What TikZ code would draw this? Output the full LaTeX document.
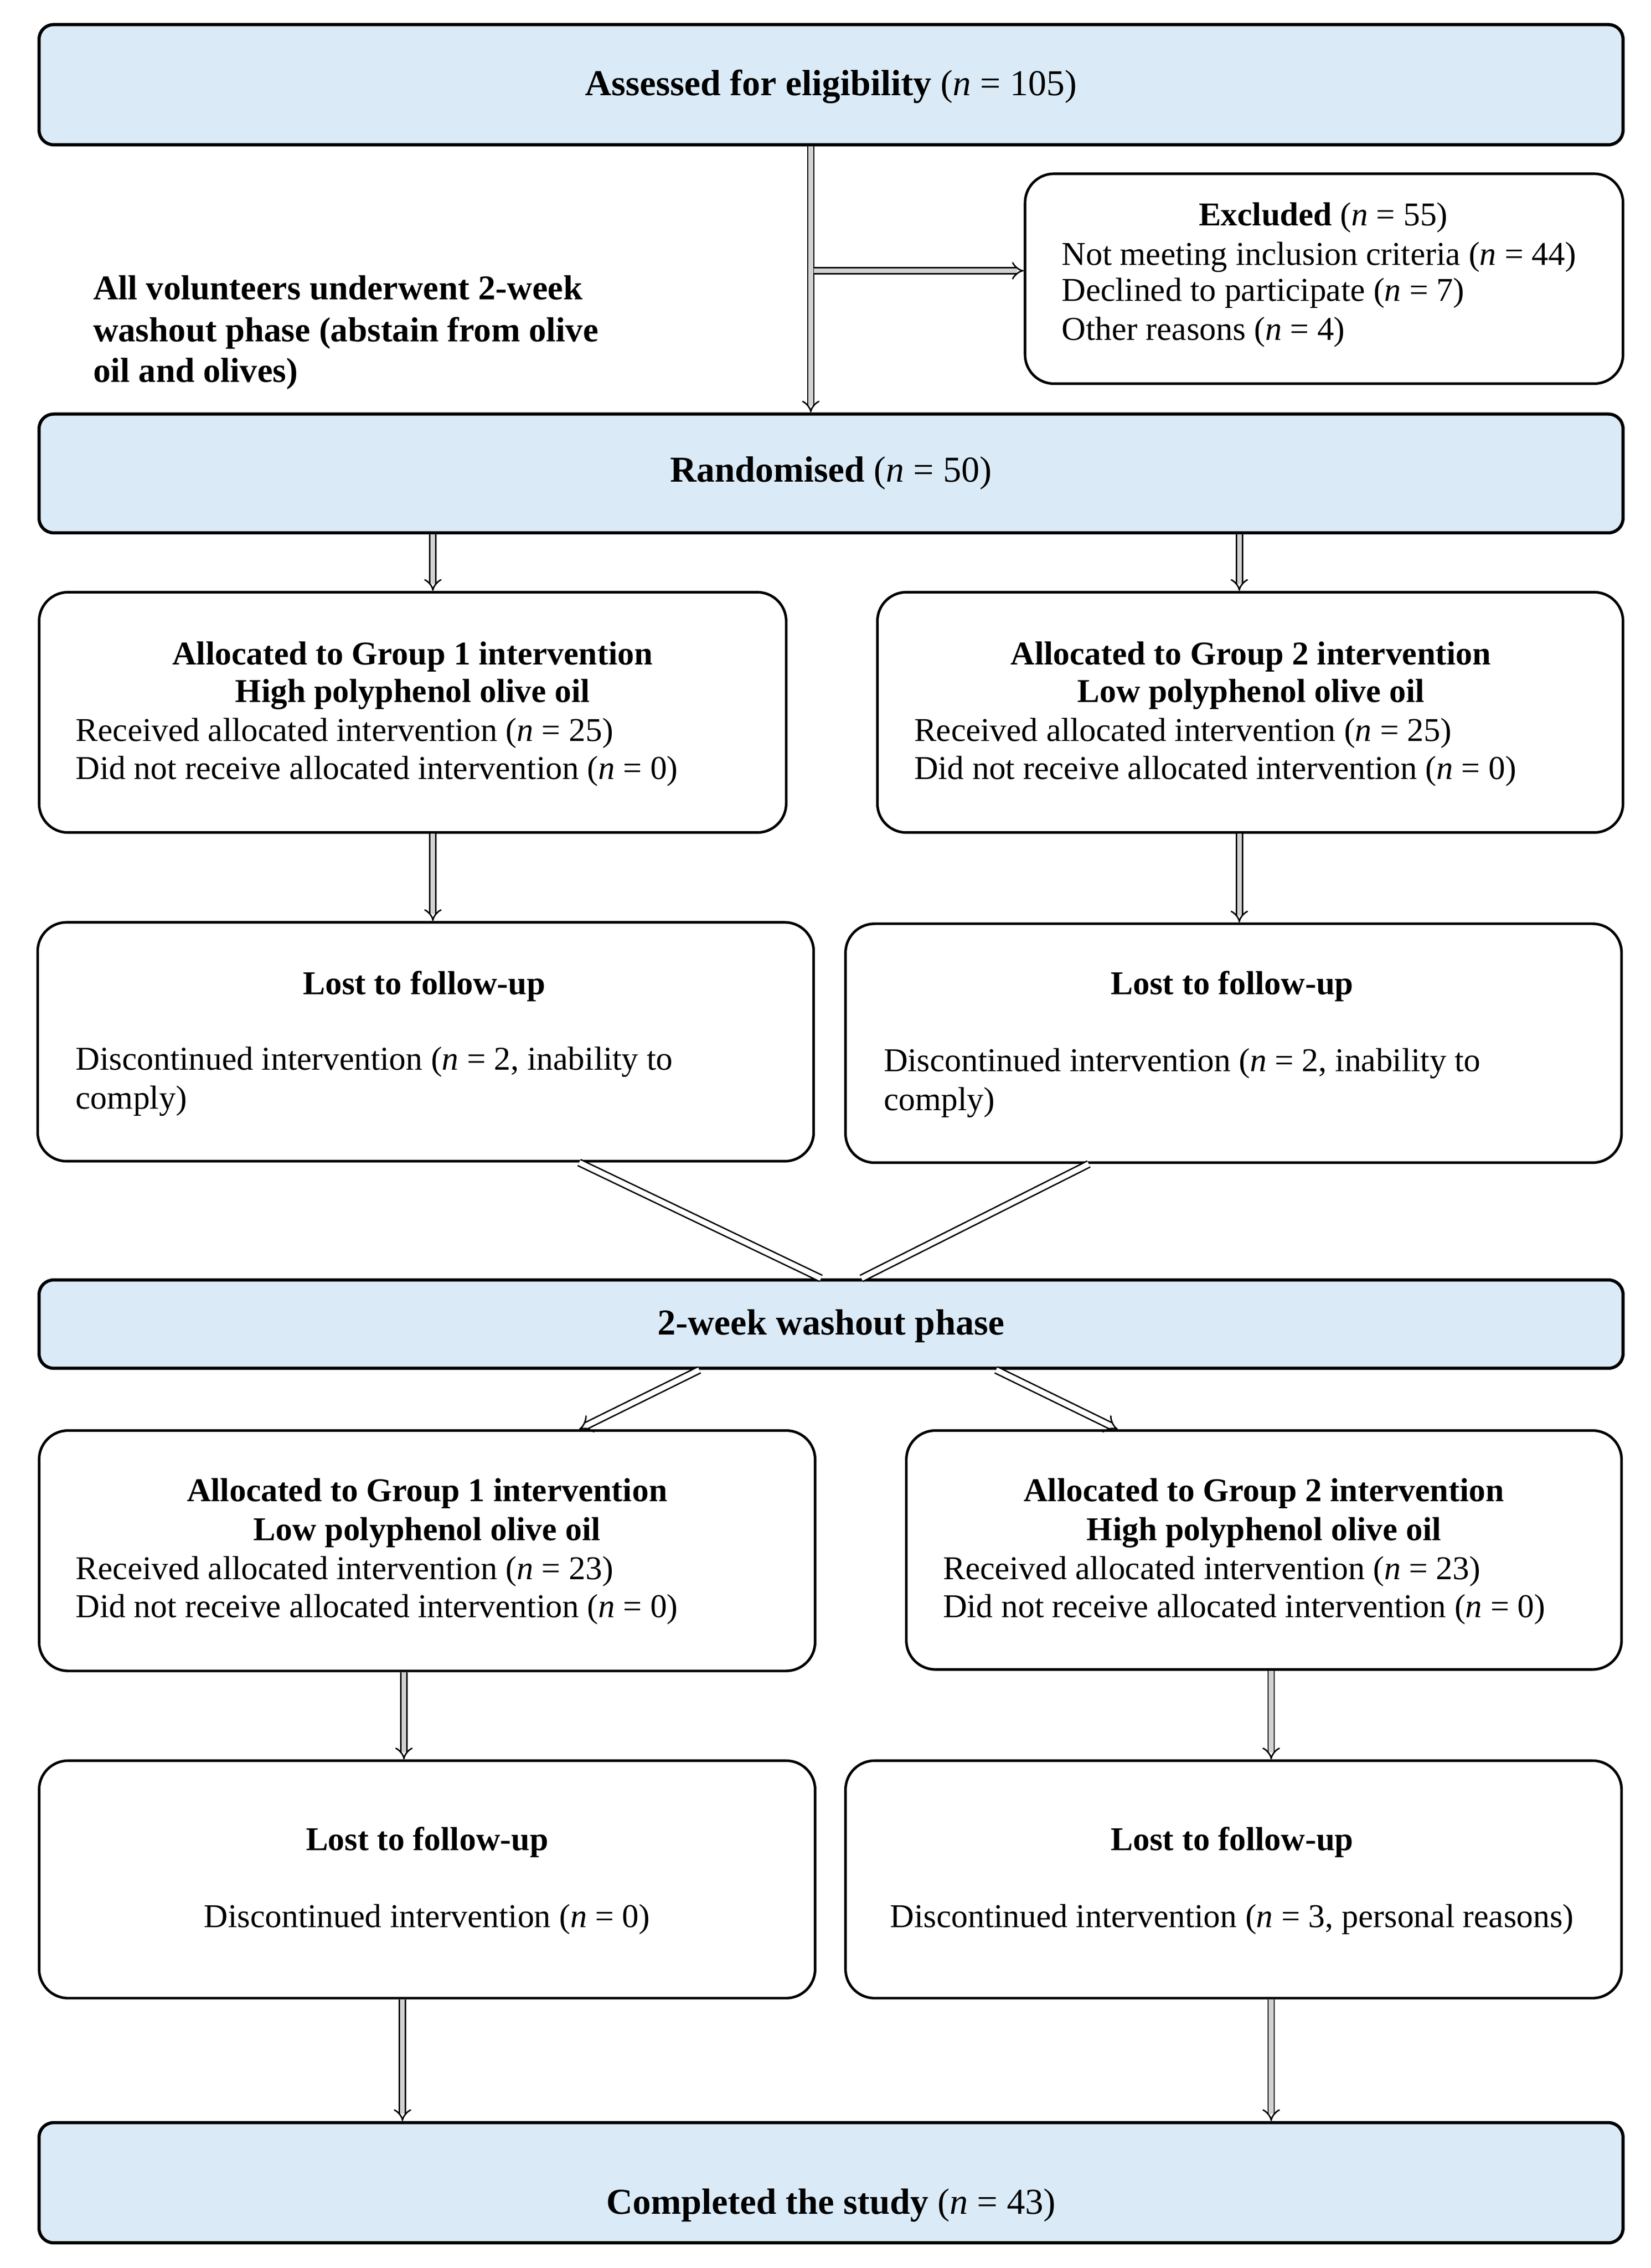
\documentclass[tikz,border=0pt]{standalone}
\usepackage{fontspec}
\setmainfont{Liberation Serif}
\usetikzlibrary{arrows.meta}
\definecolor{boxblue}{RGB}{218,234,247}
\newcommand{\nval}{\textit{n}}
\begin{document}
\begin{tikzpicture}[x=0.5pt,y=-0.5pt,
 every node/.style={font=\fontsize{11.5pt}{13pt}\selectfont},
 bigfont/.style={font=\fontsize{12.6pt}{14pt}\selectfont},
 bluebox/.style={draw=black, line width=1.1pt, fill=boxblue, rounded corners=5pt, inner sep=0pt},
 whitebox/.style={draw=black, line width=0.9pt, fill=white, rounded corners=10pt, inner sep=0pt},
 txt/.style={inner sep=0pt, anchor=base},
 ltxt/.style={inner sep=0pt, anchor=base west},
 conn/.style={draw=black, line width=0.5pt, double=gray!35, double distance=1.6pt, -{Implies}},
 diag/.style={draw=black, line width=0.5pt, double=white, double distance=1.8pt},
]
\useasboundingbox (0,0) rectangle (1140,1566.4);

% boxes
\node[bluebox, minimum width=547pt, minimum height=41.5pt] (assessed) at (574,58.5) {};
\node[whitebox, minimum width=206.5pt, minimum height=72.5pt] (excl) at (914.5,192.5) {};
\node[bluebox, minimum width=547pt, minimum height=41pt] (rand) at (574,327) {};
\node[whitebox, minimum width=258pt, minimum height=83pt] (g1a) at (285,492) {};
\node[whitebox, minimum width=257.5pt, minimum height=83pt] (g2a) at (863.5,492) {};
\node[whitebox, minimum width=268pt, minimum height=82.5pt] (l1a) at (294,719.5) {};
\node[whitebox, minimum width=268pt, minimum height=82.5pt] (l2a) at (852,720.5) {};
\node[bluebox, minimum width=547pt, minimum height=30.5pt] (wash) at (574,914.5) {};
\node[whitebox, minimum width=268pt, minimum height=83pt] (g1b) at (295,1071) {};
\node[whitebox, minimum width=247pt, minimum height=82.5pt] (g2b) at (873,1070.5) {};
\node[whitebox, minimum width=268pt, minimum height=82pt] (l1b) at (295,1298) {};
\node[whitebox, minimum width=268pt, minimum height=82pt] (l2b) at (852,1298) {};
\node[bluebox, minimum width=547pt, minimum height=41.5pt] (comp) at (574,1507.5) {};

% texts
\node[txt, bigfont] (assT) at (574,66) {\textbf{Assessed for eligibility} (\nval{} = 105)};
\node[txt, bigfont] (randT) at (574,333) {\textbf{Randomised} (\nval{} = 50)};
\node[txt, bigfont] (washT) at (574,922) {\textbf{2-week washout phase}};
\node[txt, bigfont] (compT) at (574,1529) {\textbf{Completed the study} (\nval{} = 43)};

\node[txt] (exT) at (914,156) {\textbf{Excluded} (\nval{} = 55)};
\node[ltxt] (exA) at (733,183) {Not meeting inclusion criteria (\nval{} = 44)};
\node[ltxt] (exB) at (733,208) {Declined to participate (\nval{} = 7)};
\node[ltxt] (exC) at (733,235) {Other reasons (\nval{} = 4)};

\node[ltxt, font=\fontsize{12pt}{14pt}\selectfont] (wA) at (64,207) {\textbf{All volunteers underwent 2-week}};
\node[ltxt, font=\fontsize{12pt}{14pt}\selectfont] (wB) at (64,236) {\textbf{washout phase (abstain from olive}};
\node[ltxt, font=\fontsize{12pt}{14pt}\selectfont] (wC) at (64,264) {\textbf{oil and olives)}};

\node[txt] (g1aT) at (285,459) {\textbf{Allocated to Group 1 intervention}};
\node[txt] (g1aS) at (285,485) {\textbf{High polyphenol olive oil}};
\node[ltxt] (g1aA) at (52,512) {Received allocated intervention (\nval{} = 25)};
\node[ltxt] (g1aB) at (52,538) {Did not receive allocated intervention (\nval{} = 0)};

\node[txt] (g2aT) at (864,459) {\textbf{Allocated to Group 2 intervention}};
\node[txt] (g2aS) at (864,485) {\textbf{Low polyphenol olive oil}};
\node[ltxt] (g2aA) at (631,512) {Received allocated intervention (\nval{} = 25)};
\node[ltxt] (g2aB) at (631,538) {Did not receive allocated intervention (\nval{} = 0)};

\node[txt] (l1aT) at (293,687) {\textbf{Lost to follow-up}};
\node[ltxt] (l1aA) at (52,739) {Discontinued intervention (\nval{} = 2, inability to};
\node[ltxt] (l1aB) at (52,766) {comply)};

\node[txt] (l2aT) at (851,687) {\textbf{Lost to follow-up}};
\node[ltxt] (l2aA) at (610,740) {Discontinued intervention (\nval{} = 2, inability to};
\node[ltxt] (l2aB) at (610,767) {comply)};

\node[txt] (g1bT) at (295,1037) {\textbf{Allocated to Group 1 intervention}};
\node[txt] (g1bS) at (295,1064) {\textbf{Low polyphenol olive oil}};
\node[ltxt] (g1bA) at (52,1091) {Received allocated intervention (\nval{} = 23)};
\node[ltxt] (g1bB) at (52,1117) {Did not receive allocated intervention (\nval{} = 0)};

\node[txt] (g2bT) at (873,1037) {\textbf{Allocated to Group 2 intervention}};
\node[txt] (g2bS) at (873,1064) {\textbf{High polyphenol olive oil}};
\node[ltxt] (g2bA) at (651,1091) {Received allocated intervention (\nval{} = 23)};
\node[ltxt] (g2bB) at (651,1117) {Did not receive allocated intervention (\nval{} = 0)};

\node[txt] (l1bT) at (295,1278) {\textbf{Lost to follow-up}};
\node[txt] (l1bA) at (295,1331) {Discontinued intervention (\nval{} = 0)};
\node[txt] (l2bT) at (851,1278) {\textbf{Lost to follow-up}};
\node[txt] (l2bA) at (851,1331) {Discontinued intervention (\nval{} = 3, personal reasons)};

% connectors
\coordinate (cx1) at (560,0);
\coordinate (bx) at (562,187);
\coordinate (ca) at (299,0);
\coordinate (cb) at (856,0);
\coordinate (d1) at (400,0);
\coordinate (d2) at (567,0);
\coordinate (d3) at (752,0);
\coordinate (d4) at (595,0);
\coordinate (d5) at (483,0);
\coordinate (d6) at (400,0);
\coordinate (d7) at (688,0);
\coordinate (d8) at (772,0);
\coordinate (ce) at (279,0);
\coordinate (cf) at (878,0);
\coordinate (cg) at (278,0);

\draw[conn] (assessed.south -| cx1) -- (rand.north -| cx1);
\draw[conn] (bx) -- (bx -| excl.west);
\draw[conn] (rand.south -| ca) -- (g1a.north -| ca);
\draw[conn] (rand.south -| cb) -- (g2a.north -| cb);
\draw[conn] (g1a.south -| ca) -- (l1a.north -| ca);
\draw[conn] (g2a.south -| cb) -- (l2a.north -| cb);
\draw[diag] (l1a.south -| d1) -- (wash.north -| d2);
\draw[diag] (l2a.south -| d3) -- (wash.north -| d4);
\draw[diag, -{Implies}] (wash.south -| d5) -- (g1b.north -| d6);
\draw[diag, -{Implies}] (wash.south -| d7) -- (g2b.north -| d8);
\draw[conn] (g1b.south -| ce) -- (l1b.north -| ce);
\draw[conn] (g2b.south -| cf) -- (l2b.north -| cf);
\draw[conn] (l1b.south -| cg) -- (comp.north -| cg);
\draw[conn] (l2b.south -| cf) -- (comp.north -| cf);
\end{tikzpicture}
\end{document}
